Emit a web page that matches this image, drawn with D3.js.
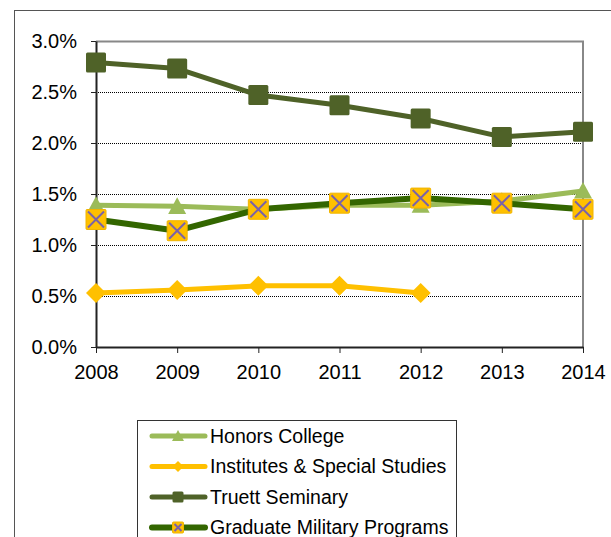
<!DOCTYPE html>
<html>
  <head>
    <meta charset="utf-8">
    <title>Rates by program</title>
    <style>
      body {
        margin: 0;
        background: #fff;
        font-family: 'Liberation Sans', Arial, sans-serif;
      }
      .tick text {
        fill: #000;
        font-size: 20px;
      }
      .legend text {
        font-size: 19.5px;
        fill: #000;
      }
    </style>
  </head>
  <body>
    <svg width="611" height="537"></svg>
    <script src="https://cdn.jsdelivr.net/npm/d3@7"></script>
    <script>
      const svg = d3.select('svg');

      const years = [2008, 2009, 2010, 2011, 2012, 2013, 2014];
      const yTicks = [0, 0.005, 0.01, 0.015, 0.02, 0.025, 0.03];

      const seriesNames = [
        'Honors College',
        'Institutes & Special Studies',
        'Truett Seminary',
        'Graduate Military Programs'
      ];
      const honors = [0.0139, 0.0138, 0.0135, 0.0139, 0.0139, 0.0143, 0.0153];
      const institutes = [0.0053, 0.0056, 0.0060, 0.0060, 0.0053, null, null];
      const truett = [0.0279, 0.0273, 0.0247, 0.0237, 0.0224, 0.0206, 0.0211];
      const military = [0.0125, 0.0114, 0.0135, 0.0141, 0.0146, 0.0141, 0.0135];

      const styles = [
        {color: '#9bbb59', width: 5, marker: 'triangle'},
        {color: '#ffc000', width: 5, marker: 'diamond'},
        {color: '#4f6228', width: 5, marker: 'square'},
        {color: '#336600', width: 6, marker: 'xsquare'}
      ];
      const seriesValues = [honors, institutes, truett, military];

      const plotL = 96, plotR = 583, plotT = 41, plotB = 347;

      const x = d3.scaleLinear().domain([2008, 2014]).range([plotL, plotR]);
      const y = d3.scaleLinear().domain([0, 0.03]).range([plotB, plotT]);

      // outer chart border
      svg.append('rect')
        .attr('x', 14.5).attr('y', 10.5)
        .attr('width', 640).attr('height', 600)
        .attr('fill', 'none').attr('stroke', '#555').attr('stroke-width', 1);

      // gridlines
      svg.append('g')
        .selectAll('line')
        .data(yTicks.slice(1, -1))
        .join('line')
          .attr('x1', plotL).attr('x2', plotR)
          .attr('y1', d => Math.round(y(d)) + 0.5)
          .attr('y2', d => Math.round(y(d)) + 0.5)
          .attr('stroke', '#000').attr('stroke-width', 1)
          .attr('stroke-dasharray', '1,1');

      // plot frame top/right
      svg.append('path')
        .attr('d', `M${plotL},${plotT + 0.5}H${plotR}V${plotB}`)
        .attr('fill', 'none').attr('stroke', '#888').attr('stroke-width', 2);

      const yAxis = d3.axisLeft(y)
        .tickValues(yTicks)
        .tickFormat(d3.format('.1%'))
        .tickSize(5)
        .tickSizeOuter(0)
        .tickPadding(14);
      svg.append('g')
        .attr('transform', `translate(${plotL},0)`)
        .call(yAxis)
        .call(g => g.select('.domain').attr('stroke', '#222').attr('stroke-width', 2))
        .call(g => g.selectAll('.tick line').attr('stroke', '#222'))
        .call(g => g.selectAll('.tick text').attr('font-family', 'Liberation Sans, Arial, sans-serif'));

      const xAxis = d3.axisBottom(x)
        .tickValues(years)
        .tickFormat(d3.format('d'))
        .tickSize(6)
        .tickSizeOuter(0)
        .tickPadding(12);
      svg.append('g')
        .attr('transform', `translate(0,${plotB})`)
        .call(xAxis)
        .call(g => g.select('.domain').attr('stroke', '#222').attr('stroke-width', 2))
        .call(g => g.selectAll('.tick line').attr('stroke', '#222'))
        .call(g => g.selectAll('.tick text').attr('font-family', 'Liberation Sans, Arial, sans-serif'));

      function drawMarker(g, type, color, size) {
        const h = size / 2;
        if (type === 'square') {
          g.append('rect')
            .attr('x', -h).attr('y', -h).attr('width', size).attr('height', size)
            .attr('rx', 1.5)
            .attr('fill', color);
        } else if (type === 'triangle') {
          g.append('path')
            .attr('d', `M0,${-h}L${h},${h * 0.85}L${-h},${h * 0.85}Z`)
            .attr('fill', color);
        } else if (type === 'diamond') {
          g.append('path')
            .attr('d', `M0,${-h}L${h},0L0,${h}L${-h},0Z`)
            .attr('fill', color);
        } else if (type === 'xsquare') {
          g.append('rect')
            .attr('x', -h).attr('y', -h).attr('width', size).attr('height', size)
            .attr('rx', 1)
            .attr('fill', '#ffc000').attr('stroke', '#f0b400').attr('stroke-width', 1);
          g.append('path')
            .attr('d', `M${-h + 2},${-h + 2}L${h - 2},${h - 2}M${h - 2},${-h + 2}L${-h + 2},${h - 2}`)
            .attr('stroke', '#7a62a8').attr('stroke-width', 2);
        }
      }

      const markerSize = {square: 20, triangle: 18, diamond: 20, xsquare: 20};

      const line = d3.line()
        .defined(d => d.v != null)
        .x(d => x(d.year))
        .y(d => y(d.v));

      seriesValues.forEach((vals, i) => {
        const st = styles[i];
        const pts = years.map((yr, j) => ({year: yr, v: vals[j]}));
        const g = svg.append('g');
        g.append('path')
          .datum(pts)
          .attr('d', line)
          .attr('fill', 'none')
          .attr('stroke', st.color)
          .attr('stroke-width', st.width)
          .attr('stroke-linejoin', 'round');
        pts.filter(d => d.v != null).forEach(d => {
          const m = g.append('g')
            .attr('transform', `translate(${x(d.year)},${y(d.v)})`);
          drawMarker(m, st.marker, st.color, markerSize[st.marker]);
        });
      });

      // legend
      const legend = svg.append('g').attr('class', 'legend');
      legend.append('rect')
        .attr('x', 137.5).attr('y', 420.5)
        .attr('width', 319).attr('height', 140)
        .attr('fill', '#fff').attr('stroke', '#333').attr('stroke-width', 1);

      seriesNames.forEach((name, i) => {
        const st = styles[i];
        const ly = 436 + i * 30.5;
        const row = legend.append('g');
        row.append('line')
          .attr('x1', 152).attr('x2', 205)
          .attr('y1', ly).attr('y2', ly)
          .attr('stroke', st.color)
          .attr('stroke-width', st.width)
          .attr('stroke-linecap', 'round');
        const m = row.append('g').attr('transform', `translate(178,${ly})`);
        drawMarker(m, st.marker, st.color, st.marker === 'triangle' ? 12 : 11);
        row.append('text')
          .attr('x', 210)
          .attr('y', ly)
          .attr('dy', '0.35em')
          .text(name);
      });
    </script>
  </body>
</html>
